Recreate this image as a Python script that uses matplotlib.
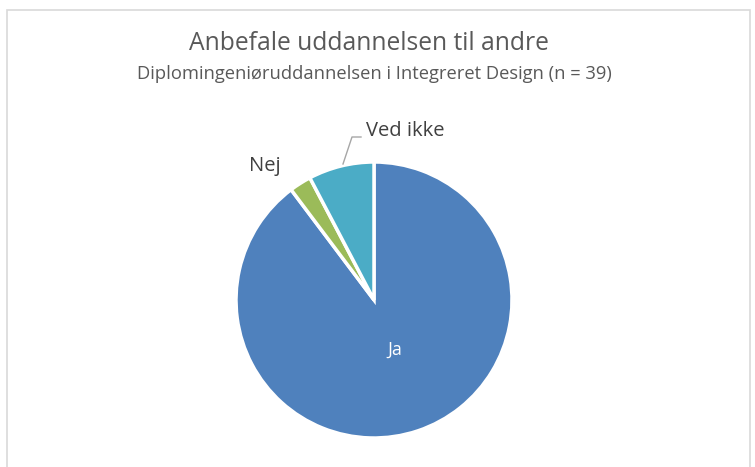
import matplotlib.pyplot as plt
from matplotlib.patches import Rectangle

# data
categories = ["Ja", "Nej", "Ved ikke"]
counts = [35, 1, 3]
colors = ["#4F81BD", "#9BBB59", "#4BACC6"]

title = "Anbefale uddannelsen til andre"
subtitle = "Diplomingeniøruddannelsen i Integreret Design (n = 39)"

W, H = 755, 467
fig = plt.figure(figsize=(W / 100, H / 100), dpi=100)
ax = fig.add_axes([0, 0, 1, 1])
plt.rcParams["font.family"] = ["Open Sans", "DejaVu Sans"]

cx, cy, r = 374, H - 300, 138
wedges, _ = ax.pie(
    counts, colors=colors, startangle=90, counterclock=False,
    center=(cx, cy), radius=r,
    wedgeprops=dict(edgecolor="white", linewidth=2.5),
)
ax.set_xlim(0, W)
ax.set_ylim(0, H)
ax.set_aspect("equal")
ax.axis("off")

# chart frame
ax.add_patch(Rectangle((7, -5), 743, H - 5, fill=False,
                       edgecolor="#D9D9D9", linewidth=1.2, clip_on=False))

txt = "#595959"
ax.text(W / 2 - 9, H - 44, title, ha="center", va="center", fontsize=17.7, color=txt)
ax.text(W / 2 - 3, H - 74, subtitle, ha="center", va="center", fontsize=13.2, color=txt)

# data labels
ax.text(395, H - 350, categories[0], ha="center", va="center", fontsize=13, color="white")
ax.text(265, H - 166, categories[1], ha="center", va="center", fontsize=14.5, color="#404040")
ax.text(405, H - 131, categories[2], ha="center", va="center", fontsize=14.5, color="#404040")
ax.plot([343, 352, 361], [H - 164, H - 137, H - 137], color="#A6A6A6", linewidth=1)

fig.savefig("out.png", dpi=100)
